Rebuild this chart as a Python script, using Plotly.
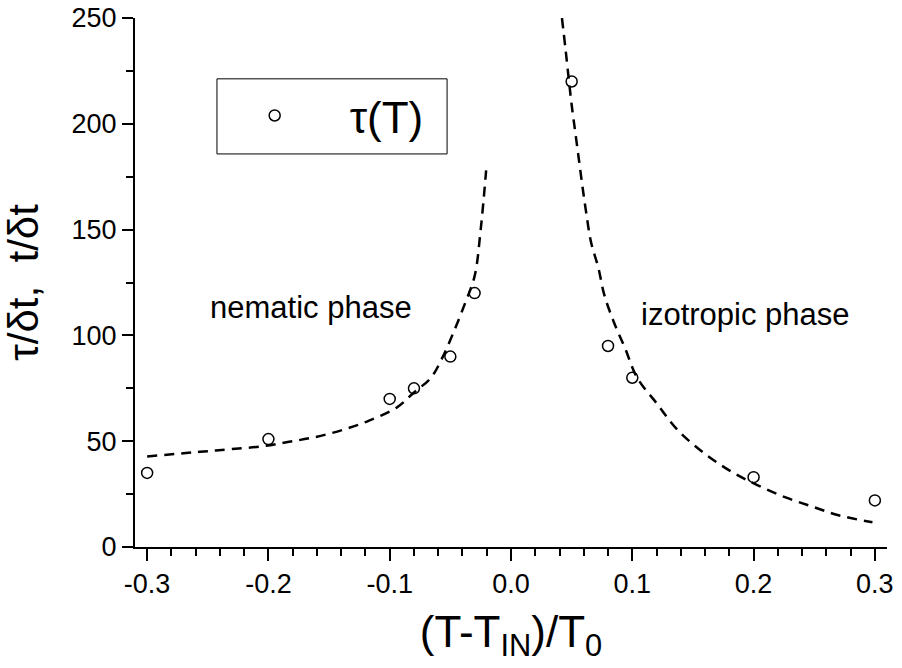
import plotly.graph_objects as go

# Measured relaxation time tau(T), in units of the time step
temp_x = [-0.30, -0.20, -0.10, -0.08, -0.05, -0.03, 0.05, 0.08, 0.10, 0.20, 0.30]
tau_y = [35, 51, 70, 75, 90, 120, 220, 95, 80, 33, 22]

# Fitted curve, nematic side
nem_x = [-0.30, -0.27, -0.25, -0.23, -0.205, -0.183, -0.161, -0.139, -0.117,
         -0.094, -0.08, -0.066, -0.057, -0.047, -0.038, -0.03, -0.025, -0.0205]
nem_y = [42.8, 44.3, 45.3, 46.3, 47.6, 49.7, 52, 55.3, 59.7,
         66, 73, 80, 89, 102, 115, 128, 150, 178]

# Fitted curve, isotropic side
iso_x = [0.042, 0.045, 0.05, 0.053, 0.056, 0.059, 0.062, 0.066, 0.072, 0.077,
         0.085, 0.094, 0.104, 0.12, 0.137, 0.16, 0.182, 0.204, 0.227, 0.249,
         0.27, 0.298]
iso_y = [250, 235, 209, 196, 183, 170, 158, 144, 132, 119,
         106, 94, 80, 68, 55.5, 44, 35.5, 29, 23.3, 19,
         15, 11.7]

x_tick_vals = [-0.3, -0.2, -0.1, 0.0, 0.1, 0.2, 0.3]
x_tick_text = ["-0.3", "-0.2", "-0.1", "0.0", "0.1", "0.2", "0.3"]
y_tick_vals = [0, 50, 100, 150, 200, 250]
y_tick_text = ["0", "50", "100", "150", "200", "250"]

FONT = "Liberation Sans, Arial, sans-serif"
DASH = "10px,7px"

fig = go.Figure()

fig.add_trace(go.Scatter(
    x=nem_x, y=nem_y, mode="lines", line_shape="spline",
    line=dict(color="black", width=2.5, dash=DASH), showlegend=False,
))
fig.add_trace(go.Scatter(
    x=iso_x, y=iso_y, mode="lines", line_shape="spline",
    line=dict(color="black", width=2.5, dash=DASH), showlegend=False,
))
fig.add_trace(go.Scatter(
    x=temp_x, y=tau_y, mode="markers", name="τ(T)",
    marker=dict(symbol="circle-open", size=11, color="black",
                line=dict(width=1.5, color="black")),
))

# Legend frame
fig.add_shape(type="rect", xref="paper", yref="paper",
              x0=0.109, x1=0.415, y0=0.743, y1=0.885,
              line=dict(color="black", width=1), fillcolor="rgba(0,0,0,0)")

fig.add_annotation(x=-0.165, y=113, text="nematic phase", showarrow=False,
                   font=dict(family=FONT, size=31, color="black"))
fig.add_annotation(x=0.193, y=110, text="izotropic phase", showarrow=False,
                   font=dict(family=FONT, size=31, color="black"))

axis_common = dict(
    showline=True, linecolor="black", linewidth=2,
    ticks="outside", tickcolor="black", tickwidth=1.5,
    showgrid=False, zeroline=False, mirror=False,
    tickfont=dict(family=FONT, size=27, color="black"),
)

fig.update_xaxes(
    range=[-0.31, 0.31], tickvals=x_tick_vals, ticktext=x_tick_text,
    ticklen=12,
    minor=dict(dtick=0.02, tick0=0, ticks="outside", ticklen=7,
               tickwidth=1.5, tickcolor="black", showgrid=False),
    title=dict(text="(T-T<sub>IN</sub>)/T<sub>0</sub>", standoff=18,
               font=dict(family=FONT, size=44, color="black")),
    **axis_common,
)
fig.update_yaxes(
    range=[0, 250], tickvals=y_tick_vals, ticktext=y_tick_text,
    ticklen=11,
    minor=dict(dtick=25, tick0=0, ticks="outside", ticklen=7,
               tickwidth=1.5, tickcolor="black", showgrid=False),
    title=dict(text="τ/δt,\u00a0 t/δt", standoff=20,
               font=dict(family=FONT, size=42, color="black")),
    **axis_common,
)

fig.update_layout(
    width=902, height=668,
    margin=dict(l=135, r=15, t=18, b=121, autoexpand=False),
    paper_bgcolor="white", plot_bgcolor="white",
    font=dict(family=FONT, color="black"),
    showlegend=True,
    legend=dict(x=0.086, y=0.815, xanchor="left", yanchor="middle",
                bgcolor="rgba(0,0,0,0)", borderwidth=0,
                itemwidth=140,
                font=dict(family=FONT, size=44, color="black")),
)

fig.write_html("out.html")
